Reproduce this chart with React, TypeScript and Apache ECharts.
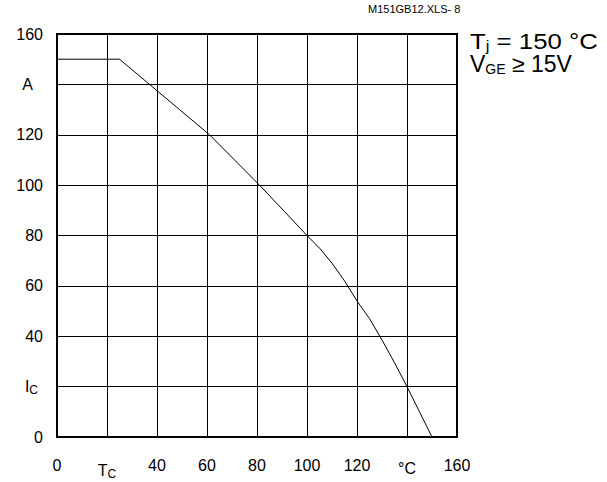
import React, { useEffect, useRef } from "react";
import * as echarts from "echarts";

const FONT = "'Liberation Sans', Arial, Helvetica, sans-serif";

// Case temperature T_C (°C) and permissible collector current I_C (A)
const tempC = [0, 25, 37, 49, 61, 71, 81, 91, 100, 105, 110, 115, 120, 125, 130, 135, 140, 145, 150];
const currentA = [150, 150, 140, 130, 120, 110, 100, 89.5, 80, 75, 69, 62, 54, 47, 38.5, 29.5, 20, 10, 0];

// Tick labels (every 20 units); some ticks carry the axis names instead of numbers
const xTickLabels = ["0", "{t|T}{ts|C}", "40", "60", "80", "100", "120", "{deg|°C}", "160"];
const yTickLabels = ["0", "{i|I}{is|C}", "40", "60", "80", "100", "120", "{a|A}", "160"];

const docId = "M151GB12.XLS- 8";
const noteLine1 = "{m|T}{s|j}{m| = 150 °C}";
const noteLine2 = "{m|V}{s|GE}{m| ≥ 15V}";

export default function App() {
  const ref = useRef<HTMLDivElement>(null);

  useEffect(() => {
    if (!ref.current) return;
    const chart = echarts.init(ref.current, undefined, { renderer: "svg" });
    const data = tempC.map((t, i) => [t, currentA[i]]);
    chart.setOption({
      animation: false,
      backgroundColor: "#fff",
      textStyle: { fontFamily: FONT },
      grid: {
        left: 57,
        right: 150,
        top: 34,
        bottom: 45,
        show: true,
        borderColor: "#000",
        borderWidth: 2,
        backgroundColor: "transparent",
      },
      xAxis: {
        type: "value",
        min: 0,
        max: 160,
        interval: 20,
        axisLine: { show: true, lineStyle: { color: "#000", width: 2 } },
        axisTick: { show: false },
        splitLine: { show: true, lineStyle: { color: "#000", width: 1 } },
        axisLabel: {
          margin: 20,
          color: "#000",
          fontSize: 16,
          fontFamily: FONT,
          formatter: (v: number) => xTickLabels[Math.round(v / 20)] ?? "",
          rich: {
            t: { fontSize: 16, lineHeight: 16, color: "#000", fontFamily: FONT, padding: [5, 0, 0, 0], verticalAlign: "top" },
            ts: { fontSize: 12, lineHeight: 12, color: "#000", fontFamily: FONT, padding: [11, 0, 0, 0], verticalAlign: "top" },
            deg: { fontSize: 16, lineHeight: 16, color: "#000", fontFamily: FONT, padding: [7, 0, 0, 0] },
          },
        },
      },
      yAxis: {
        type: "value",
        min: 0,
        max: 160,
        interval: 20,
        axisLine: { show: true, lineStyle: { color: "#000", width: 2 } },
        axisTick: { show: false },
        splitLine: { show: true, lineStyle: { color: "#000", width: 1 } },
        axisLabel: {
          margin: 14,
          color: "#000",
          fontSize: 16,
          fontFamily: FONT,
          formatter: (v: number) => yTickLabels[Math.round(v / 20)] ?? "",
          rich: {
            a: { fontSize: 16, color: "#000", fontFamily: FONT, padding: [0, 10, 0, 0] },
            i: { fontSize: 16, lineHeight: 18, color: "#000", fontFamily: FONT },
            is: { fontSize: 12, lineHeight: 12, color: "#000", fontFamily: FONT, verticalAlign: "bottom", padding: [0, 5, 0, 0] },
          },
        },
      },
      series: [
        {
          type: "line",
          data,
          showSymbol: false,
          smooth: false,
          lineStyle: { color: "#000", width: 1 },
          z: 5,
        },
      ],
      graphic: [
        {
          type: "text",
          left: 368,
          top: 3,
          style: { text: docId, fontSize: 11, fill: "#000", fontFamily: FONT },
        },
        {
          type: "text",
          x: 470,
          y: 28,
          scaleX: 1.12,
          style: {
            text: noteLine1,
            fill: "#000",
            fontFamily: FONT,
            rich: {
              m: { fontSize: 23, lineHeight: 25, fill: "#000", fontFamily: FONT },
              s: { fontSize: 15, lineHeight: 15, fill: "#000", fontFamily: FONT, verticalAlign: "bottom" },
            },
          },
        },
        {
          type: "text",
          x: 470,
          y: 51,
          style: {
            text: noteLine2,
            fill: "#000",
            fontFamily: FONT,
            rich: {
              m: { fontSize: 23, lineHeight: 25, fill: "#000", fontFamily: FONT },
              s: { fontSize: 14, lineHeight: 14, fill: "#000", fontFamily: FONT, verticalAlign: "bottom" },
            },
          },
        },
      ],
    });
    return () => chart.dispose();
  }, []);

  return (
    <div
      ref={ref}
      style={{ position: "fixed", left: 0, top: 0, width: 607, height: 482, background: "#fff" }}
    />
  );
}
